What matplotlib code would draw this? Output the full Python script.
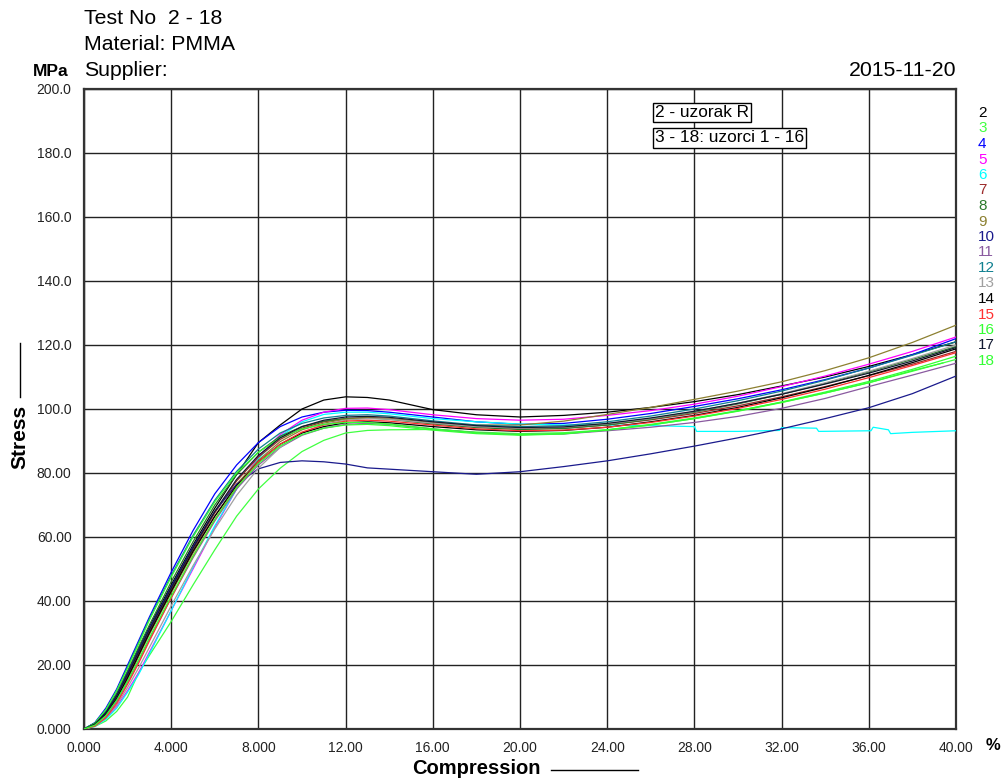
import matplotlib
matplotlib.use("Agg")
import matplotlib.pyplot as plt
from matplotlib.lines import Line2D
import numpy as np

## DATA

strain = [0, 0.5, 1, 1.5, 2, 2.5, 3, 4, 5, 6, 7, 8, 9, 10, 11, 12, 13, 14,
          16, 18, 20, 22, 24, 26, 28, 30, 32, 34, 36, 38, 40]

stress_2 = [0, 1.8, 5.5, 11, 18, 25, 32, 45, 57.5, 69, 79.5, 89.5, 95, 100, 102.8, 103.8, 103.6, 102.8,
            99.8, 98.2, 97.5, 98, 99, 100.5, 102.3, 104.5, 107.2, 110, 113.3, 117, 121]
stress_3 = [0, 0.8, 2.5, 5.5, 10, 17.5, 23, 33.6, 45, 56, 66.5, 75, 81.5, 86.7, 90.2, 92.5, 93.3, 93.5,
            93.6, 92.8, 92.3, 92.6, 93.5, 95, 97, 99.3, 102, 105, 108.2, 111.8, 115.5]
stress_4 = [0, 2, 6.5, 12.5, 20, 27.5, 35, 49, 62, 73.5, 82.5, 89.5, 94.5, 97.5, 99, 99.6, 99.5, 99,
            97.5, 96, 95.2, 95.5, 96.8, 98.6, 100.8, 103.2, 106, 109.2, 112.8, 117, 122]
stress_5 = [0, 1, 3.2, 7, 12, 17.5, 24, 37, 50, 63, 75, 85, 92, 96.5, 99, 100.2, 100.3, 99.8,
            98.2, 97, 96.5, 96.8, 98, 99.5, 101.5, 104, 107, 110.3, 114, 118, 122.5]
strain_6 = [0, 0.5, 1, 1.5, 2, 2.5, 3, 4, 5, 6, 7, 8, 9, 10, 11, 12, 13, 14,
            16, 18, 20, 22, 24, 26, 28, 28.1, 30, 31.9, 32, 33.6, 33.7, 36.1, 36.2, 36.9, 37, 38, 40]
stress_6 = [0, 0.8, 3, 6.5, 11.5, 17, 23.5, 37, 50.5, 63.5, 75, 84.5, 91.5, 96, 98.3, 99, 99, 98.5,
            97, 96, 95.3, 95, 95, 94.8, 94.5, 93, 93, 93.3, 94.2, 94, 93, 93.2, 94.3, 93.5, 92.3, 92.7, 93.2]
stress_7 = [0, 1.5, 4.8, 9.8, 16.5, 23.5, 30.5, 43.5, 56, 67.5, 77.5, 85, 90.5, 94, 96, 97, 97.3, 97,
            95.6, 94.4, 93.8, 94, 95, 96.6, 98.6, 101, 103.8, 107, 110.4, 114, 118]
stress_8 = [0, 1.7, 5.5, 11, 18, 25.5, 32.5, 46, 58.5, 70, 79.5, 86.5, 91.5, 94.5, 96.2, 97, 97.2, 96.8,
            95.3, 94.2, 93.6, 93.9, 95, 96.8, 99, 101.6, 104.6, 108, 111.6, 115.5, 119.5]
stress_9 = [0, 1.3, 4.3, 9, 15.5, 22.5, 29.5, 42.5, 55, 66.5, 76.5, 84, 89.8, 93.5, 95.6, 96.8, 97.2, 97,
            95.8, 95, 95, 96.2, 98.3, 100.5, 103, 105.6, 108.5, 112, 116, 120.8, 126.2]
stress_10 = [0, 1.6, 5.2, 10.5, 17.5, 24.5, 31.5, 44.5, 57, 68, 76.5, 81.3, 83.3, 83.8, 83.5, 82.8, 81.6, 81.2,
             80.4, 79.6, 80.4, 82, 83.8, 86, 88.4, 91, 93.8, 97, 100.4, 104.8, 110.3]
stress_11 = [0, 1.2, 4, 8.5, 14.5, 21, 28, 41, 53.5, 65, 75, 82.5, 88, 91.8, 94, 95.2, 95.5, 95.2,
             93.8, 92.6, 92, 92.2, 93.2, 94.3, 95.8, 97.7, 100.2, 103.3, 107, 110.6, 114.3]
stress_12 = [0, 1.9, 6, 12, 19.5, 27, 34.5, 48, 60.5, 71.5, 80.5, 87.5, 92.5, 95.5, 97.2, 98, 98.2, 97.8,
             96.3, 95, 94.5, 94.8, 96, 97.8, 100, 102.6, 105.6, 109, 112.8, 116.8, 121]
stress_13 = [0, 1, 3.5, 7.5, 13, 19, 25.5, 38.5, 51, 62.5, 73, 81.5, 88, 92.5, 95.2, 96.5, 97, 96.8,
             95.6, 94.5, 94, 94.3, 95.4, 97, 99.2, 101.8, 104.8, 108.2, 111.8, 115.8, 120]
stress_14 = [0, 1.4, 4.6, 9.5, 16, 23, 30, 43, 55.5, 66.5, 76, 83.5, 89, 92.5, 94.5, 95.7, 96, 95.7,
             94.5, 93.5, 93, 93.3, 94.3, 96, 98, 100.5, 103.5, 106.8, 110.5, 114.5, 118.8]
stress_15 = [0, 0.9, 3.5, 8, 14, 20.5, 27.5, 41, 54, 65.5, 75.5, 83.5, 89, 92.8, 95, 96.2, 96.5, 96.2,
             95, 93.8, 93.2, 93.4, 94.3, 95.8, 97.8, 100.2, 103, 106.2, 109.8, 113.6, 117.6]
stress_16 = [0, 1.8, 6, 12, 19, 26.5, 34, 47.5, 60, 71, 80, 86.5, 91, 93.8, 95.2, 95.8, 95.8, 95.3,
             93.8, 92.6, 92, 92.3, 93.4, 95, 97, 99.4, 102.2, 105.3, 108.6, 112.4, 116.5]
stress_17 = [0, 1.6, 5, 10.3, 17, 24, 31, 44, 56.5, 68, 78, 85.5, 91, 94.5, 96.5, 97.5, 97.7, 97.4,
             96, 94.8, 94.2, 94.4, 95.5, 97.2, 99.3, 101.8, 104.6, 107.8, 111.2, 115, 119.2]
strain_18 = [0, 0.5, 1, 1.5, 2, 2.5, 3, 4, 5, 6, 7, 8, 9, 10, 11, 12, 13, 14,
             16, 18, 20, 22, 24, 26, 28, 30, 32, 34, 36, 38, 39.4]
stress_18 = [0, 1.2, 4.2, 9, 15, 21.5, 28.5, 41.5, 54, 65.5, 75.5, 83, 88.5, 92, 94, 95, 95.2, 94.8,
             93.4, 92.3, 91.8, 92.2, 93.5, 95.2, 97.2, 99.5, 102.1, 105, 108.2, 112, 114.4]

specimens = ["2", "3", "4", "5", "6", "7", "8", "9", "10", "11", "12", "13", "14", "15", "16", "17", "18"]
colors = ["#000000", "#40ff40", "#0000ff", "#ff00ff", "#00ffff", "#9c2a2a", "#2a7a2a", "#8c8030",
          "#1a1a8c", "#8a5aa0", "#108090", "#a0a0a0", "#000000", "#ff3030", "#33ff33", "#101830", "#33ff33"]

x_ticks = [0, 4, 8, 12, 16, 20, 24, 28, 32, 36, 40]
x_tick_labels = ["0.000", "4.000", "8.000", "12.00", "16.00", "20.00", "24.00", "28.00", "32.00", "36.00", "40.00"]
y_ticks = [0, 20, 40, 60, 80, 100, 120, 140, 160, 180, 200]
y_tick_labels = ["0.000", "20.00", "40.00", "60.00", "80.00", "100.0", "120.0", "140.0", "160.0", "180.0", "200.0"]

## PLOT

plt.rcParams['font.family'] = ['Liberation Sans', 'DejaVu Sans']

W, H = 1003, 781
fig = plt.figure(figsize=(W / 100, H / 100), dpi=100)
ax = fig.add_axes([84 / W, 1 - 729 / H, (956 - 84) / W, (729 - 89) / H])

series = [
    (strain, stress_2), (strain, stress_3), (strain, stress_4), (strain, stress_5),
    (strain_6, stress_6), (strain, stress_7), (strain, stress_8), (strain, stress_9),
    (strain, stress_10), (strain, stress_11), (strain, stress_12), (strain, stress_13),
    (strain, stress_14), (strain, stress_15), (strain, stress_16), (strain, stress_17),
    (strain_18, stress_18),
]
for (sx, sy), c in zip(series, colors):
    ax.plot(sx, sy, color=c, lw=0.9, zorder=3)

ax.set_xlim(0, 40)
ax.set_ylim(0, 200)
ax.set_xticks(x_ticks)
ax.set_xticklabels(x_tick_labels)
ax.set_yticks(y_ticks)
ax.set_yticklabels(y_tick_labels)
ax.tick_params(length=0, labelsize=10, colors="#222222", pad=9)
ax.grid(True, color="#222222", lw=1.0, zorder=1)
for sp in ax.spines.values():
    sp.set_color("#333333")
    sp.set_linewidth(1.6)

# note boxes
box = dict(boxstyle="square,pad=0.12", fc="white", ec="black", lw=1)
ax.text(26.2, 192.7, "2 - uzorak R", fontsize=12.4, va="center", ha="left", bbox=box, zorder=5)
ax.text(26.2, 184.7, "3 - 18: uzorci 1 - 16", fontsize=12.4, va="center", ha="left", bbox=box, zorder=5)

# specimen numbers on the right
for i, (lab, c) in enumerate(zip(specimens, colors)):
    fig.text(978 / W, 1 - (113 + i * 15.5) / H, lab, color=c, fontsize=11, ha="left", va="center")

# header
fig.text(84 / W, 1 - 18 / H, "Test No  2 - 18", fontsize=15.3, va="center", ha="left")
fig.text(84 / W, 1 - 44 / H, "Material: PMMA", fontsize=15.3, va="center", ha="left")
fig.text(84 / W, 1 - 70 / H, "Supplier:", fontsize=15.3, va="center", ha="left")
fig.text(956 / W, 1 - 70 / H, "2015-11-20", fontsize=15.3, va="center", ha="right")
fig.text(51 / W, 1 - 72 / H, "MPa", fontsize=12.5, va="center", ha="center", weight="bold")
fig.text(993 / W, 1 - 746 / H, "%", fontsize=12, va="center", ha="center", weight="bold")

# axis titles with their line markers
fig.text(20 / W, 1 - 437 / H, "Stress", fontsize=15, rotation=90, va="center", ha="center", weight="bold")
fig.add_artist(Line2D([20 / W, 20 / W], [1 - 343 / H, 1 - 397 / H], color="black", lw=1))
fig.text(476 / W, 1 - 769 / H, "Compression", fontsize=14.5, va="center", ha="center", weight="semibold")
fig.add_artist(Line2D([551 / W, 638 / W], [1 - 770 / H, 1 - 770 / H], color="black", lw=1))

fig.savefig("out.png", dpi=100)
